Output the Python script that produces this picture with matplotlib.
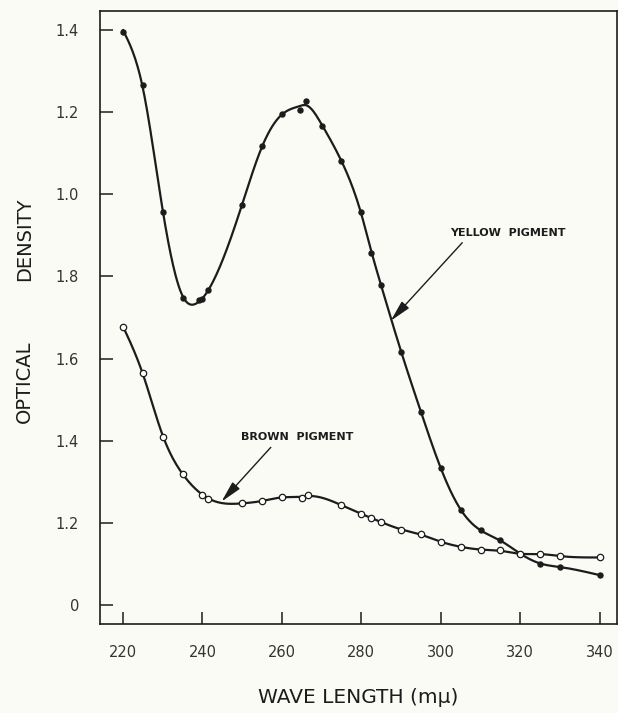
import numpy as np
import matplotlib
matplotlib.use("Agg")
import matplotlib.pyplot as plt

# absorption readings, wave length in m\u00b5 vs optical density
YELLOW_WL = [220, 225, 230, 235, 239, 240, 241.5, 250, 255, 260, 264.5, 266,
             270, 275, 280, 282.5, 285, 290, 295, 300, 305, 310, 315, 320,
             325, 330, 340]
YELLOW_OD = [1.396, 1.266, 0.957, 0.748, 0.742, 0.744, 0.768, 0.975, 1.117,
             1.195, 1.206, 1.227, 1.167, 1.080, 0.956, 0.856, 0.779, 0.617,
             0.471, 0.333, 0.232, 0.182, 0.158, 0.125, 0.101, 0.093, 0.073]

BROWN_WL = [220, 225, 230, 235, 240, 241.5, 250, 255, 260, 265, 266.5, 275,
            280, 282.5, 285, 290, 295, 300, 305, 310, 315, 320, 325, 330, 340]
BROWN_OD = [0.677, 0.566, 0.409, 0.320, 0.269, 0.259, 0.248, 0.253, 0.263,
            0.261, 0.268, 0.243, 0.222, 0.212, 0.202, 0.184, 0.172, 0.154,
            0.142, 0.135, 0.133, 0.124, 0.125, 0.119, 0.116]

X_TICKS = [220, 240, 260, 280, 300, 320, 340]
Y_TICKS = [0, 0.2, 0.4, 0.6, 0.8, 1.0, 1.2, 1.4]
Y_TICK_LABELS = ["0", "1.2", "1.4", "1.6", "1.8", "1.0", "1.2", "1.4"]

INK = "#1c1c1c"
PAPER = "#fbfbf5"


def smooth_curve(x, y, lam):
    """Penalised (smoothing-spline style) fit on a fine grid, for the drawn line."""
    x = np.asarray(x, float)
    y = np.asarray(y, float)
    grid = np.linspace(x.min(), x.max(), 601)
    h = grid[1] - grid[0]
    n = len(grid)
    A = np.zeros((len(x), n))
    idx = np.clip(np.searchsorted(grid, x) - 1, 0, n - 2)
    t = (x - grid[idx]) / h
    rows = np.arange(len(x))
    A[rows, idx] = 1 - t
    A[rows, idx + 1] = t
    D = np.diff(np.eye(n), 2, axis=0) / h ** 2
    z = np.linalg.solve(A.T @ A + lam * h * D.T @ D, A.T @ y)
    return grid, z


fig = plt.figure(figsize=(6.18, 7.13), dpi=100, facecolor=PAPER)
ax = fig.add_axes([0.1618, 0.1248, 0.8362, 0.8598])
ax.set_facecolor(PAPER)

gx, gy = smooth_curve(YELLOW_WL, YELLOW_OD, 1.5)
ax.plot(gx, gy, color=INK, linewidth=1.6, zorder=3)
ax.plot(YELLOW_WL, YELLOW_OD, linestyle="none", marker="o", markersize=3.6,
        color=INK, zorder=4)

bx, by = smooth_curve(BROWN_WL, BROWN_OD, 2.0)
ax.plot(bx, by, color=INK, linewidth=1.6, zorder=3)
ax.plot(BROWN_WL, BROWN_OD, linestyle="none", marker="o", markersize=4.6,
        markerfacecolor="white", markeredgecolor=INK, markeredgewidth=0.9,
        zorder=5)

arrow = dict(arrowstyle="-|>,head_length=1.3,head_width=0.3",
             color=INK, linewidth=1.0, mutation_scale=10,
             shrinkA=0, shrinkB=0)
ax.annotate("", xy=(287.4, 0.692), xytext=(305.4, 0.882), arrowprops=arrow,
            zorder=6)
ax.text(316.9, 0.905, "YELLOW  PIGMENT", ha="center", va="center",
        fontsize=8, fontweight="bold", color=INK)
ax.annotate("", xy=(244.8, 0.252), xytext=(257.2, 0.384), arrowprops=arrow,
            zorder=6)
ax.text(263.8, 0.408, "BROWN  PIGMENT", ha="center", va="center",
        fontsize=8, fontweight="bold", color=INK)

ax.set_xlim(214.2, 344.3)
ax.set_ylim(-0.046, 1.446)
ax.set_xticks(X_TICKS)
ax.set_yticks(Y_TICKS)
ax.set_yticklabels(Y_TICK_LABELS)
ax.tick_params(direction="in", length=9, width=1.1, color=INK,
               labelcolor="#333333", labelsize=10.5)
ax.tick_params(axis="x", pad=15)
ax.tick_params(axis="y", pad=15)
for sp in ax.spines.values():
    sp.set_color(INK)
    sp.set_linewidth(1.2)

ax.set_xlabel("WAVE LENGTH (m\u00b5)", fontsize=14.5, color=INK, labelpad=20)
fig.text(0.040, 0.665, "DENSITY", rotation=90, ha="center", va="center",
         fontsize=14, color=INK)
fig.text(0.040, 0.465, "OPTICAL", rotation=90, ha="center", va="center",
         fontsize=14, color=INK)

fig.savefig("out.png", dpi=100, facecolor=PAPER)
